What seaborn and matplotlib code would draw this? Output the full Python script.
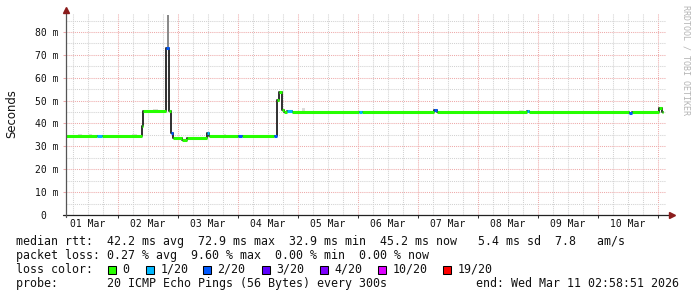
import matplotlib
matplotlib.use("Agg")
import matplotlib.pyplot as plt
import seaborn as sns
import pandas as pd
from matplotlib.ticker import FixedLocator, FuncFormatter, NullFormatter
from matplotlib.patches import Rectangle

# ---------------- data (time = hours since 01 Mar 00:00) ----------------
seg_start = [3.0, 15.5, 17.5, 33.5, 34.1, 43.3, 44.3, 45.3, 46.1, 49.5, 51.7,
             59.5, 60.3, 72.0, 73.5, 86.4, 87.5, 88.3, 89.5, 90.5, 91.7, 93.6,
             120.4, 121.5, 150.3, 151.6, 187.5, 188.4, 228.3, 229.6, 240.4, 241.5]
seg_last_end = 242.1
median_ms = [34.7, 34.7, 34.7, 39.0, 45.5, 72.9, 45.5, 35.7, 33.5, 32.8, 33.5,
             35.7, 34.7, 34.7, 34.7, 34.7, 50.3, 53.6, 45.9, 45.0, 45.5, 45.2,
             45.2, 45.2, 45.9, 45.2, 45.5, 45.2, 44.5, 45.2, 46.6, 45.2]
loss_count = [0, 1, 0, 0, 0, 2, 0, 2, 0, 0, 0,
              1, 0, 2, 0, 2, 0, 0, 0, 0, 1, 0,
              1, 0, 2, 0, 1, 0, 2, 0, 0, 0]

smoke_start = [43.5, 8.0, 12.4, 29.6, 38.0, 66.4, 97.6, 184.4]
smoke_end = [44.3, 9.6, 13.6, 31.6, 40.0, 67.2, 98.8, 186.0]
smoke_lo = [72.9, 34.7, 34.7, 34.7, 45.5, 34.7, 45.2, 45.2]
smoke_hi = [87.5, 35.6, 35.6, 35.6, 46.3, 35.6, 46.6, 46.0]
smoke_col = ["#8a8a8a", "#dcdcdc", "#dcdcdc", "#dcdcdc", "#dcdcdc", "#dcdcdc", "#dcdcdc", "#dcdcdc"]

loss_levels = [0, 1, 2, 3, 4, 10, 19]
loss_labels = ["0", "1/20", "2/20", "3/20", "4/20", "10/20", "19/20"]
loss_colors = ["#26ff00", "#00b8ff", "#0059ff", "#5e00ff", "#7e00ff", "#dd00ff", "#ff0000"]

y_ticks = [0, 10, 20, 30, 40, 50, 60, 70, 80]
y_labels = ["0  ", "10 m", "20 m", "30 m", "40 m", "50 m", "60 m", "70 m", "80 m"]
day_labels = ["01 Mar", "02 Mar", "03 Mar", "04 Mar", "05 Mar",
              "06 Mar", "07 Mar", "08 Mar", "09 Mar", "10 Mar"]

legend_rows = [
    "median rtt:  42.2 ms avg  72.9 ms max  32.9 ms min  45.2 ms now   5.4 ms sd  7.8   am/s",
    "packet loss: 0.27 % avg  9.60 % max  0.00 % min  0.00 % now",
    "loss color:",
    "probe:       20 ICMP Echo Pings (56 Bytes) every 300s",
]
end_text = "end: Wed Mar 11 02:58:51 2026"

# ---------------- style ----------------
sns.set_theme(style="white")
plt.rcParams["font.family"] = ["DejaVu Sans Mono", "DejaVu Sans"]
W, H = 697, 297
fig = plt.figure(figsize=(W / 100, H / 100), dpi=100)
fig.patch.set_facecolor("white")


def fx(x):
    return x / W


def fy(y):
    return 1 - y / H


ax = fig.add_axes([fx(66), fy(215), 600 / W, 202 / H])
ax.set_facecolor("white")
ax.set_xlim(3.2, 243.2)
ax.set_ylim(0, 88.3)

# smoke
for s, e, lo, hi, c in zip(smoke_start, smoke_end, smoke_lo, smoke_hi, smoke_col):
    ax.fill_between([s, e], [lo, lo], [hi, hi], color=c, lw=0, zorder=2)

# median black step line
t_all = seg_start + [seg_last_end]
v_all = median_ms + [median_ms[-1]]
df_line = pd.DataFrame({"t": t_all, "ms": v_all})
sns.lineplot(data=df_line, x="t", y="ms", estimator=None, sort=False,
             drawstyle="steps-post", color="#202020", lw=1.3, ax=ax, zorder=3)

# loss-coloured median segments
seg_end = seg_start[1:] + [seg_last_end]
rows = []
for i, (s, e, v, l) in enumerate(zip(seg_start, seg_end, median_ms, loss_count)):
    rows.append({"seg": i, "t": s, "ms": v, "loss": l})
    rows.append({"seg": i, "t": e, "ms": v, "loss": l})
df_seg = pd.DataFrame(rows)
pal = dict(zip(loss_levels, loss_colors))
sns.lineplot(data=df_seg, x="t", y="ms", units="seg", hue="loss", palette=pal,
             estimator=None, sort=False, lw=2.2, legend=False, ax=ax, zorder=4,
             solid_capstyle="butt")

ax.set_xlabel("")
ax.set_ylabel("")

# grid / ticks
red = "#eeaaaa"
grey = "#d2d2d2"
ax.xaxis.set_major_locator(FixedLocator([24 * k for k in range(1, 11)]))
ax.xaxis.set_major_formatter(NullFormatter())
minor_x = [h for h in range(6, 244, 6) if h % 24 != 0]
ax.xaxis.set_minor_locator(FixedLocator(minor_x))


def day_fmt(h, pos):
    if int(round(h)) % 24 == 12:
        k = int(h // 24)
        if 0 <= k < len(day_labels):
            return day_labels[k]
    return ""


ax.xaxis.set_minor_formatter(FuncFormatter(day_fmt))
ax.set_yticks(y_ticks)
ax.set_yticklabels(y_labels)
ax.yaxis.set_minor_locator(FixedLocator([5, 15, 25, 35, 45, 55, 65, 75, 85]))

ax.grid(which="major", color=red, ls=(0, (1, 1)), lw=0.75)
ax.grid(which="minor", color=grey, ls=(0, (1, 1)), lw=0.75)
ax.set_axisbelow(True)

ax.tick_params(axis="x", which="major", length=2.3, width=0.75, color="#333333",
               direction="out", bottom=True)
ax.tick_params(axis="x", which="minor", length=0, pad=3.2, labelsize=7,
               labelcolor="#111111", bottom=True)
ax.tick_params(axis="y", which="major", length=2.3, width=0.75, color=red,
               direction="out", pad=3.0, labelsize=7, labelcolor="#111111", left=True)
ax.tick_params(axis="y", which="minor", length=0)
for lab in ax.get_xticklabels(minor=True) + ax.get_yticklabels():
    lab.set_family("DejaVu Sans Mono")

for sp in ax.spines.values():
    sp.set_visible(False)

# axes lines and arrows
ax.plot([-0.005, 1.008], [0, 0], transform=ax.transAxes, clip_on=False,
        color="#222222", lw=0.9, zorder=5)
ax.plot([0, 0], [-0.01, 1.02], transform=ax.transAxes, clip_on=False,
        color="#555555", lw=0.9, zorder=5)
ax.plot([1.01], [0], marker=">", ms=4.5, transform=ax.transAxes, clip_on=False,
        color="#8b1c1c", mec="#8b1c1c", zorder=6)
ax.plot([0], [1.017], marker="^", ms=4.5, transform=ax.transAxes, clip_on=False,
        color="#8b1c1c", mec="#8b1c1c", zorder=6)

# y label and watermark
fig.text(fx(12), fy(114), "Seconds", rotation=90, ha="center", va="center",
         fontsize=8.4, family="DejaVu Sans", color="#111111")
fig.text(fx(686), fy(60), "RRDTOOL / TOBI OETIKER", rotation=270, ha="center",
         va="center", fontsize=6, family="DejaVu Sans Mono", color="#b4b4b4")

# legend
baselines = [245, 259, 273, 287]
for txt, yb in zip(legend_rows, baselines):
    fig.text(fx(16), fy(yb), txt, ha="left", va="baseline", fontsize=8.4,
             family="DejaVu Sans Mono", color="#111111")
fig.text(fx(679.5), fy(287), end_text, ha="right", va="baseline", fontsize=8.4,
         family="DejaVu Sans Mono", color="#111111")

box_x = [108, 146, 203, 262, 320, 378, 443]
for bx, lab, col in zip(box_x, loss_labels, loss_colors):
    fig.patches.append(Rectangle((fx(bx), fy(274)), 8 / W, 8 / H,
                                 transform=fig.transFigure, facecolor=col,
                                 edgecolor="black", lw=0.75))
    fig.text(fx(bx + 14.5), fy(273), lab, ha="left", va="baseline", fontsize=8.4,
             family="DejaVu Sans Mono", color="#111111")

fig.savefig("out.png", dpi=100, facecolor="white")
